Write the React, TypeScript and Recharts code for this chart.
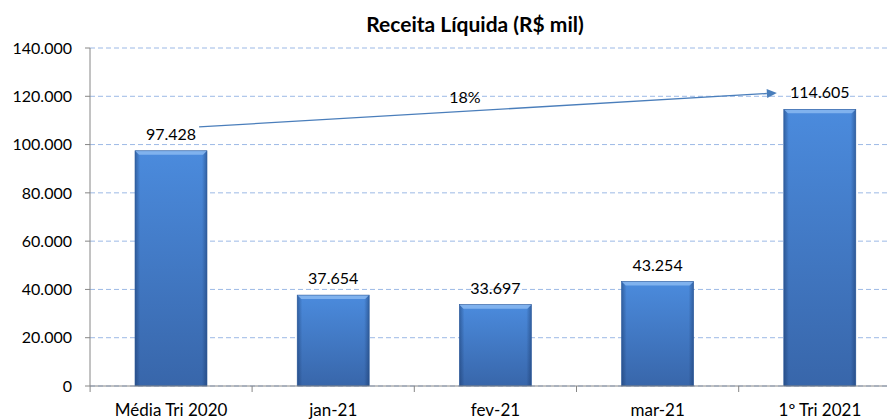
import React from 'react';
import { BarChart, Bar, XAxis, YAxis, CartesianGrid, LabelList, ReferenceLine } from 'recharts';

const categories = ['Média Tri 2020', 'jan-21', 'fev-21', 'mar-21', '1º Tri 2021'];
const receita = [97428, 37654, 33697, 43254, 114605];
const yTicks = [0, 20000, 40000, 60000, 80000, 100000, 120000, 140000];
const title = 'Receita Líquida (R$ mil)';
const growthLabel = '18%';
const arrowFrom = { category: 'Média Tri 2020', value: 107300 };
const arrowTo = { category: '1º Tri 2021', value: 121400 };

const data = categories.map((c, i) => ({ category: c, receita: receita[i] }));

const FONT = 'Lato, "Open Sans", sans-serif';
const BAND_HALF = 81;

const fmt = (v: number) => String(v).replace(/\B(?=(\d{3})+(?!\d))/g, '.');

const BarShape = (props: any) => {
  const { x, y, width, height } = props;
  if (!height || height <= 0) return null;
  const b = 4;
  return (
    <g>
      <rect x={x} y={y} width={width} height={height} fill="url(#barV)" />
      <rect x={x} y={y} width={width} height={height} fill="url(#barH)" />
      <polygon
        points={`${x},${y} ${x + width},${y} ${x + width - b},${y + b} ${x + b},${y + b}`}
        fill="#86B6F0"
        opacity={0.9}
      />
      <rect x={x} y={y} width={width} height={height} fill="none" stroke="#2F5C9C" strokeWidth={0.6} />
    </g>
  );
};

const ArrowShape = (props: any) => {
  const { x1, y1, x2, y2 } = props;
  if (x1 == null) return null;
  const sx = x1 + 28;
  const ex = x2 - 43;
  const sy = y1;
  const ey = y2;
  const ang = Math.atan2(ey - sy, ex - sx);
  const L = 10;
  const W = 4.5;
  const bx = ex - L * Math.cos(ang);
  const by = ey - L * Math.sin(ang);
  const px = -Math.sin(ang) * W;
  const py = Math.cos(ang) * W;
  const mx = (sx + ex) / 2;
  const my = (sy + ey) / 2;
  return (
    <g>
      <line x1={sx} y1={sy} x2={bx} y2={by} stroke="#4A7EBB" strokeWidth={1.3} />
      <polygon points={`${ex},${ey} ${bx + px},${by + py} ${bx - px},${by - py}`} fill="#4A7EBB" />
      <text x={mx - 23} y={my - 7} textAnchor="middle" fontFamily={FONT} fontSize={16} fill="#000">
        {growthLabel}
      </text>
    </g>
  );
};

const XTick = (props: any) => {
  const { x, y, payload, index } = props;
  return (
    <g>
      <text x={x} y={y + 30} textAnchor="middle" fontFamily={FONT} fontSize={17} fill="#000">
        {payload.value}
      </text>
      {index === 0 && <line x1={x - BAND_HALF} y1={y} x2={x - BAND_HALF} y2={y + 6} stroke="#868686" />}
      <line x1={x + BAND_HALF} y1={y} x2={x + BAND_HALF} y2={y + 6} stroke="#868686" />
    </g>
  );
};

export default function App() {
  return (
    <div style={{ position: 'absolute', left: 0, top: 0, width: 887, height: 419, overflow: 'hidden', background: '#fff' }}>
      <div
        style={{
          position: 'absolute',
          left: 0,
          width: 950,
          top: 11,
          textAlign: 'center',
          fontFamily: FONT,
          fontWeight: 700,
          fontSize: 21,
          lineHeight: '25px',
          color: '#000',
        }}
      >
        {title}
      </div>
      <BarChart
        width={905}
        height={419}
        data={data}
        margin={{ top: 48, right: 4, left: 0, bottom: 0 }}
        style={{ position: 'absolute', left: 0, top: 0 }}
      >
        <defs>
          <linearGradient id="barV" x1="0" y1="0" x2="0" y2="1">
            <stop offset="0%" stopColor="#4B8BDD" />
            <stop offset="100%" stopColor="#3866AA" />
          </linearGradient>
          <linearGradient id="barH" x1="0" y1="0" x2="1" y2="0">
            <stop offset="0%" stopColor="#14305E" stopOpacity={0.45} />
            <stop offset="7%" stopColor="#14305E" stopOpacity={0} />
            <stop offset="93%" stopColor="#14305E" stopOpacity={0} />
            <stop offset="100%" stopColor="#14305E" stopOpacity={0.45} />
          </linearGradient>
        </defs>
        <CartesianGrid horizontal vertical={false} stroke="#9CB9E6" strokeDasharray="5 3" />
        <XAxis
          dataKey="category"
          height={33}
          axisLine={{ stroke: '#868686' }}
          tickLine={false}
          tickSize={0}
          tickMargin={0}
          tick={<XTick />}
          interval={0}
        />
        <YAxis
          width={90}
          domain={[0, 140000]}
          ticks={yTicks}
          interval={0}
          tickFormatter={fmt}
          axisLine={{ stroke: '#868686' }}
          tickLine={{ stroke: '#868686' }}
          tickSize={5}
          tickMargin={13}
          tick={{ fill: '#000', fontSize: 16, fontFamily: FONT }}
        />
        <Bar dataKey="receita" barSize={72} shape={<BarShape />} isAnimationActive={false}>
          <LabelList
            dataKey="receita"
            position="top"
            offset={11}
            formatter={(v: any) => fmt(Number(v))}
            style={{ fill: '#000', fontSize: 16, fontFamily: FONT }}
          />
        </Bar>
        <ReferenceLine
          segment={[
            { x: arrowFrom.category, y: arrowFrom.value },
            { x: arrowTo.category, y: arrowTo.value },
          ]}
          ifOverflow="visible"
          shape={<ArrowShape />}
        />
      </BarChart>
    </div>
  );
}
